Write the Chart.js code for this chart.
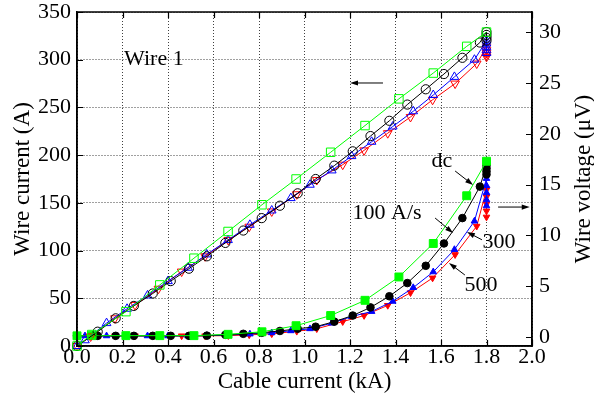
<!DOCTYPE html>
<html>
<head>
<meta charset="utf-8">
<script src="https://cdn.jsdelivr.net/npm/chart.js@4.4.1/dist/chart.umd.min.js"></script>
<style>
  html, body { margin: 0; padding: 0; background: #fff; }
  #wrap { position: relative; width: 594px; height: 397px; }
</style>
</head>
<body>
<div id="wrap"><canvas id="c" width="594" height="397"></canvas></div>
<script>
// Cable current (kA) and, for each ramp, wire current (A) and wire voltage (uV)
const dcCable   = [0, 0.065, 0.215, 0.364, 0.514, 0.664, 0.813, 0.963, 1.115, 1.266, 1.415, 1.566, 1.713, 1.80];
const dcWireI   = [0, 12, 36, 64, 92, 120, 148, 175, 203, 231, 259, 286, 314, 329];
const dcVolt    = [0.1, 0.12, 0.12, 0.12, 0.12, 0.25, 0.5, 1.1, 2.1, 3.6, 5.9, 9.2, 13.9, 17.3];

const r100Cable = [0, 0.091, 0.17, 0.25, 0.333, 0.412, 0.492, 0.571, 0.652, 0.731, 0.812, 0.892, 0.97, 1.049, 1.131, 1.212, 1.29, 1.373, 1.452, 1.533, 1.613, 1.694, 1.771, 1.80, 1.80, 1.80, 1.80];
const r100WireI = [0, 15, 29, 42, 55, 68, 81, 94, 108, 121, 134, 147, 160, 175, 189, 204, 220, 236, 253, 269, 285, 302, 318, 329, 326, 323, 320];
const r100Volt  = [0.1, 0.1, 0.1, 0.1, 0.1, 0.1, 0.1, 0.12, 0.2, 0.3, 0.4, 0.58, 0.8, 1.0, 1.5, 2.1, 2.9, 4.0, 5.3, 7.0, 9.2, 11.7, 14.8, 16.9, 16.6, 16.3, 16.0];

const r300Cable = [0, 0.035, 0.13, 0.22, 0.31, 0.40, 0.488, 0.57, 0.664, 0.76, 0.856, 0.94, 1.024, 1.12, 1.207, 1.295, 1.388, 1.478, 1.566, 1.659, 1.747, 1.80, 1.80, 1.80, 1.80, 1.80];
const r300WireI = [0, 6, 24, 39, 53, 68, 82, 96, 111, 127, 142, 155, 169, 184, 199, 214, 230, 246, 263, 282, 300, 320, 317, 313, 310, 307];
const r300Volt  = [0.1, 0.1, 0.1, 0.1, 0.1, 0.1, 0.1, 0.12, 0.18, 0.28, 0.4, 0.6, 0.8, 1.35, 2.0, 2.5, 3.5, 4.85, 6.4, 8.6, 11.4, 15.6, 14.9, 14.2, 13.5, 12.9];

const r500Cable = [0, 0.06, 0.167, 0.255, 0.358, 0.46, 0.563, 0.665, 0.757, 0.856, 0.966, 1.054, 1.168, 1.262, 1.366, 1.466, 1.563, 1.662, 1.757, 1.80, 1.80, 1.80, 1.80, 1.80];
const r500WireI = [0, 10, 29, 43, 60, 78, 94, 111, 125, 141, 159, 174, 190, 205, 223, 240, 258, 275, 296, 313, 310, 307, 305, 303];
const r500Volt  = [0.1, 0.1, 0.1, 0.1, 0.1, 0.1, 0.1, 0.12, 0.2, 0.3, 0.55, 0.8, 1.5, 2.1, 3.1, 4.35, 5.8, 8.1, 10.9, 14.5, 13.8, 13.1, 12.4, 11.8];

// Axis ticks
const cableTicks   = [0, 0.2, 0.4, 0.6, 0.8, 1.0, 1.2, 1.4, 1.6, 1.8, 2.0];
const currentTicks = [0, 50, 100, 150, 200, 250, 300, 350];
const voltageTicks = [0, 5, 10, 15, 20, 25, 30];

// Texts
const xTitle  = 'Cable current (kA)';
const yTitle  = 'Wire current (A)';
const y2Title = 'Wire voltage (\u03bcV)';
const notes = [
  { text: 'Wire 1',  x: 0.338, y: 300 },
  { text: 'dc',      x: 1.604, y: 194 },
  { text: '100 A/s', x: 1.363, y: 139 },
  { text: '300',     x: 1.855, y: 109 },
  { text: '500',     x: 1.776, y: 64 }
];
const arrows = [
  { from: [1.345, 275.6], to: [1.20, 275.6] },
  { from: [1.851, 145.6], to: [1.99, 145.6] },
  { from: [1.662, 183.4], to: [1.741, 168.7] },
  { from: [1.574, 134.1], to: [1.653, 118.4] },
  { from: [1.780, 111.3], to: [1.714, 119.5] },
  { from: [1.705, 74.4],  to: [1.635, 87.0] }
];

const FONT = 'Liberation Serif';
const GREEN = '#00ff00', BLACK = '#000000', BLUE = '#0000ff', RED = '#ff0000';

function pts(xs, ys) { return xs.map((x, i) => ({ x: x, y: ys[i] })); }

function series(xs, ys, axis, color, style, radius, filled, rot) {
  return {
    data: pts(xs, ys),
    yAxisID: axis,
    borderColor: color,
    backgroundColor: filled ? color : 'rgba(0,0,0,0)',
    pointBorderColor: color,
    pointBackgroundColor: filled ? color : 'rgba(0,0,0,0)',
    pointStyle: style,
    pointRotation: rot || 0,
    pointRadius: radius,
    pointBorderWidth: 1,
    borderWidth: 1,
    tension: 0,
    fill: false,
    clip: false
  };
}

const datasets = [
  series(dcCable,   dcWireI,   'y',  GREEN, 'rect',     6.0, false),
  series(r100Cable, r100WireI, 'y',  BLACK, 'circle',   4.6, false),
  series(r300Cable, r300WireI, 'y',  BLUE,  'triangle', 5.0, false),
  series(r500Cable, r500WireI, 'y',  RED,   'triangle', 5.0, false, 180),
  series(dcCable,   dcVolt,    'y2', GREEN, 'rect',     5.6, true),
  series(r100Cable, r100Volt,  'y2', BLACK, 'circle',   3.8, true),
  series(r300Cable, r300Volt,  'y2', BLUE,  'triangle', 3.8, true),
  series(r500Cable, r500Volt,  'y2', RED,   'triangle', 3.8, true, 180)
];

const tickFont = { family: FONT, size: 22 };

// Frame, inward tick marks, axis titles, notes and arrows
const decor = {
  id: 'decor',
  afterDraw(chart) {
    const ctx = chart.ctx, a = chart.chartArea;
    const sx = chart.scales.x, sy = chart.scales.y, sy2 = chart.scales.y2;
    ctx.save();
    ctx.strokeStyle = '#000';
    ctx.lineWidth = 1.5;
    ctx.strokeRect(a.left, a.top, a.right - a.left, a.bottom - a.top);

    ctx.lineWidth = 1.2;
    const L = 6;
    ctx.beginPath();
    cableTicks.forEach(v => {
      const p = Math.round(sx.getPixelForValue(v)) + 0.5;
      ctx.moveTo(p, a.bottom); ctx.lineTo(p, a.bottom - L);
      ctx.moveTo(p, a.top);    ctx.lineTo(p, a.top + L);
    });
    currentTicks.forEach(v => {
      const p = Math.round(sy.getPixelForValue(v)) + 0.5;
      ctx.moveTo(a.left, p); ctx.lineTo(a.left + L, p);
    });
    voltageTicks.forEach(v => {
      const p = Math.round(sy2.getPixelForValue(v)) + 0.5;
      ctx.moveTo(a.right, p); ctx.lineTo(a.right - L, p);
    });
    ctx.stroke();

    ctx.fillStyle = '#000';
    ctx.font = '23px "' + FONT + '"';
    ctx.textAlign = 'center';
    ctx.textBaseline = 'middle';
    ctx.fillText(xTitle, (a.left + a.right) / 2, 382);

    ctx.save();
    ctx.translate(23, (a.top + a.bottom) / 2);
    ctx.rotate(-Math.PI / 2);
    ctx.fillText(yTitle, 0, 0);
    ctx.restore();

    ctx.save();
    ctx.translate(584, (a.top + a.bottom) / 2);
    ctx.rotate(-Math.PI / 2);
    ctx.fillText(y2Title, 0, 0);
    ctx.restore();

    ctx.font = '22px "' + FONT + '"';
    notes.forEach(n => {
      ctx.fillText(n.text, sx.getPixelForValue(n.x), sy.getPixelForValue(n.y));
    });

    ctx.lineWidth = 1;
    arrows.forEach(ar => {
      const x1 = sx.getPixelForValue(ar.from[0]), y1 = sy.getPixelForValue(ar.from[1]);
      const x2 = sx.getPixelForValue(ar.to[0]),   y2 = sy.getPixelForValue(ar.to[1]);
      const ang = Math.atan2(y2 - y1, x2 - x1);
      const hl = 8, hw = 2.6;
      ctx.beginPath();
      ctx.moveTo(x1, y1);
      ctx.lineTo(x2 - hl * 0.8 * Math.cos(ang), y2 - hl * 0.8 * Math.sin(ang));
      ctx.stroke();
      ctx.beginPath();
      ctx.moveTo(x2, y2);
      ctx.lineTo(x2 - hl * Math.cos(ang) + hw * Math.sin(ang), y2 - hl * Math.sin(ang) - hw * Math.cos(ang));
      ctx.lineTo(x2 - hl * Math.cos(ang) - hw * Math.sin(ang), y2 - hl * Math.sin(ang) + hw * Math.cos(ang));
      ctx.closePath();
      ctx.fill();
    });
    ctx.restore();
  }
};

new Chart(document.getElementById('c'), {
  type: 'line',
  data: { datasets: datasets },
  options: {
    responsive: false,
    animation: false,
    devicePixelRatio: 1,
    layout: { padding: { top: 12, left: 0, right: 0, bottom: 0 } },
    plugins: { legend: { display: false }, tooltip: { enabled: false } },
    scales: {
      x: {
        type: 'linear', position: 'bottom', min: 0, max: 2,
        afterBuildTicks: s => { s.ticks = cableTicks.map(v => ({ value: v })); },
        afterFit: s => { s.height = 51; s.paddingLeft = 0; s.paddingRight = 0; },
        ticks: { font: tickFont, color: '#000', padding: -2, maxRotation: 0, autoSkip: false,
                 callback: v => Number(v).toFixed(1) },
        grid: { color: 'rgba(0,0,0,0.75)', lineWidth: 1, drawTicks: false },
        border: { display: true, color: '#000', width: 1.5, dash: [1, 2] }
      },
      y: {
        type: 'linear', position: 'left', min: 0, max: 350,
        afterBuildTicks: s => { s.ticks = currentTicks.map(v => ({ value: v })); },
        afterFit: s => { s.width = 77; s.paddingTop = 0; s.paddingBottom = 0; },
        ticks: { font: tickFont, color: '#000', padding: 6, autoSkip: false },
        grid: { color: 'rgba(0,0,0,0.75)', lineWidth: 1, drawTicks: false },
        border: { display: true, color: '#000', width: 1.5, dash: [1, 2] }
      },
      y2: {
        type: 'linear', position: 'right', min: -0.9, max: 32,
        afterBuildTicks: s => { s.ticks = voltageTicks.map(v => ({ value: v })); },
        afterFit: s => { s.width = 62; s.paddingTop = 0; s.paddingBottom = 0; },
        ticks: { font: tickFont, color: '#000', padding: 7, autoSkip: false },
        grid: { display: false, drawTicks: false },
        border: { display: true, color: '#000', width: 1.5 }
      }
    }
  },
  plugins: [decor]
});
</script>
</body>
</html>
